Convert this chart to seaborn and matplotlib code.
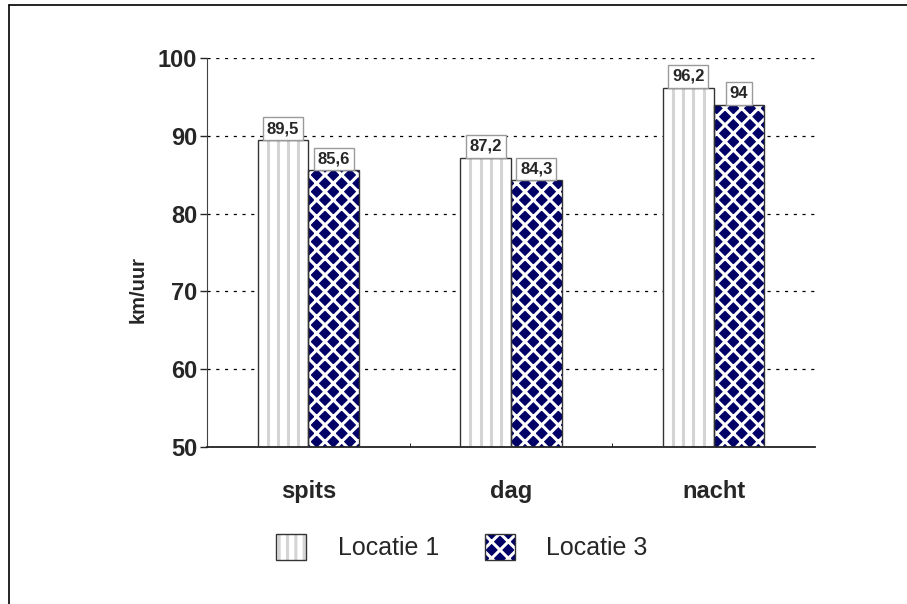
"""
Snelheden per periode: Locatie 1 vs Locatie 3 (km/uur)
"""
import pandas as pd
import matplotlib
matplotlib.use("Agg")
import matplotlib.pyplot as plt
import seaborn as sns
from matplotlib.patches import Rectangle, Patch
from matplotlib.lines import Line2D
from matplotlib.legend_handler import HandlerTuple

# data
perioden = ["spits", "dag", "nacht"]
locaties = ["Locatie 1", "Locatie 3"]
locatie_1 = [89.5, 87.2, 96.2]
locatie_3 = [85.6, 84.3, 94.0]

sns.set_style("ticks")
plt.rcParams["font.family"] = ["Liberation Sans", "DejaVu Sans"]
plt.rcParams["hatch.linewidth"] = 2.2

NAVY = "#000066"
GRIJS = "#d4d4d4"

df = pd.DataFrame({
    "periode": perioden * 2,
    "locatie": [locaties[0]] * 3 + [locaties[1]] * 3,
    "snelheid": locatie_1 + locatie_3,
})

fig = plt.figure(figsize=(9.07, 6.04), dpi=100)
ax = fig.add_axes([207 / 907, 1 - 447 / 604, 608 / 907, 389 / 604])

sns.barplot(data=df, x="periode", y="snelheid", hue="locatie",
            order=perioden, hue_order=locaties, width=0.5, gap=0,
            errorbar=None, legend=False, ax=ax)

for cont, loc in zip(ax.containers, locaties):
    for bar in cont.patches:
        x0, w, h = bar.get_x(), bar.get_width(), bar.get_height()
        bar.set_linewidth(0)
        if loc == "Locatie 1":
            bar.set_facecolor("white")
            # verticale grijze strepen binnen de staaf
            ax.vlines([x0 + w * k / 5 for k in range(1, 5)], 50, h,
                      color=GRIJS, lw=2.2, zorder=2.5)
        else:
            bar.set_facecolor(NAVY)
            bar.set_edgecolor("white")
            bar.set_hatch("xx")
        ax.add_patch(Rectangle((x0, bar.get_y()), w, h, facecolor="none",
                               edgecolor="#333333", lw=1, zorder=3))
    labels = [f"{v:g}".replace(".", ",") for v in cont.datavalues]
    for bar, lab in zip(cont.patches, labels):
        ax.annotate(lab, (bar.get_x() + bar.get_width() / 2, bar.get_height()),
                    xytext=(0, 2.6), textcoords="offset points",
                    ha="center", va="bottom", fontsize=12, fontweight="bold",
                    zorder=4,
                    bbox=dict(boxstyle="square,pad=0.22", fc="white",
                              ec="#9a9a9a", lw=1))

ax.set_ylim(50, 100)
ax.set_yticks(range(50, 101, 10))
ax.set_xlim(-0.5, 2.5)
for y in range(60, 101, 10):
    ax.axhline(y, color="black", lw=0.9, ls=(0, (2.5, 4.5)), zorder=0)

ax.set_xlabel("")
ax.set_ylabel("km/uur", fontsize=14.5, fontweight="bold")
ax.yaxis.set_label_coords(-0.098, 0.405)
ax.tick_params(axis="y", labelsize=17, length=5, width=1, pad=2)
ax.tick_params(axis="x", labelsize=17, length=0, pad=24)
for t in ax.get_xticklabels() + ax.get_yticklabels():
    t.set_fontweight("bold")
ax.set_xticks([0.5, 1.5], minor=True)
ax.tick_params(axis="x", which="minor", length=3, direction="in", color="black")

sns.despine(ax=ax)
ax.spines["left"].set_color("#404040")
ax.spines["bottom"].set_color("#222222")
ax.spines["bottom"].set_linewidth(1.3)

# legenda: arcering en omlijning over elkaar
handles = [
    (Patch(facecolor="white", edgecolor=GRIJS, hatch="||", lw=0),
     Patch(facecolor="none", edgecolor="#333333", lw=1)),
    (Patch(facecolor=NAVY, edgecolor="white", hatch="xx", lw=0),
     Patch(facecolor="none", edgecolor="#333333", lw=1)),
]
fig.legend(handles, locaties, handler_map={tuple: HandlerTuple(ndivide=1, pad=0)},
           loc="center", bbox_to_anchor=(462 / 907, 1 - 547 / 604), ncol=2,
           frameon=False, fontsize=18, handlelength=1.2, handleheight=1.2,
           handletextpad=1.25, columnspacing=1.85)

# kader boven en links
fig.add_artist(Line2D([9 / 907, 1], [1 - 5 / 604] * 2, transform=fig.transFigure,
                      color="black", lw=1.2))
fig.add_artist(Line2D([9 / 907] * 2, [0, 1 - 5 / 604], transform=fig.transFigure,
                      color="black", lw=1.2))

fig.savefig("out.png", dpi=100)
plt.close(fig)
